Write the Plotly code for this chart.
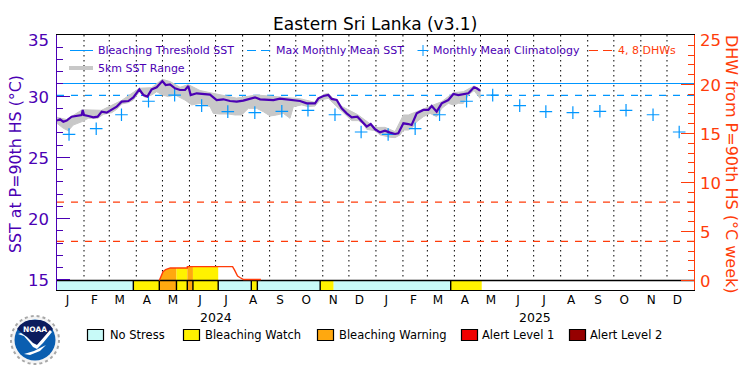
import pandas as pd
import plotly.graph_objects as go

TITLE = "Eastern Sri Lanka (v3.1)"
START = pd.Timestamp("2024-01-01")
END = pd.Timestamp("2026-01-01")

sst_days = [0,3.4,7.3,11.1,16.8,22.6,28.3,29.5,31,36,41.7,46.7,51.3,57,62.7,68.5,74.2,81.9,87.6,94.5,99.1,103.7,108.6,114.4,120.9,124.7,129.7,135.4,141.2,146.9,150.7,153.4,160.3,168,175.6,183.2,190.9,198.5,206.2,213.8,221.5,227.2,233,240.6,248.3,255.9,263.6,271.2,278.9,286.5,296.1,299.9,305.7,311.4,315.2,321,326.7,332.4,338.2,344.7,349.7,355.4,360,365,370.7,376.4,382.2,387.9,391.7,397.5,403.2,407,412.8,420.4,426.2,430,435.7,441.5,449.1,454.9,460.6,466.3,472.1,478.6,481.6,485.5]
sst_vals = [28.01,28.12,27.92,28.01,28.33,28.39,28.47,28.88,28.47,28.39,28.28,28.33,28.74,28.66,28.88,29.15,29.56,29.61,29.91,30.56,30.10,29.97,30.56,30.73,31.24,30.92,30.97,30.65,30.51,30.51,30.84,30.10,30.24,30.18,30.13,29.69,29.75,29.61,29.56,29.64,29.83,29.91,29.75,29.69,29.69,29.80,29.75,29.69,29.61,29.42,29.42,29.83,30.02,30.10,29.78,29.69,29.01,28.60,28.28,28.33,27.92,27.52,27.73,27.30,27.05,27.19,27.03,26.92,26.97,27.79,27.73,27.65,28.60,28.88,28.88,29.20,28.74,29.42,29.69,30.18,30.10,30.16,30.24,30.73,30.65,30.46]

low_days = [0,7.3,13,18.7,28.3,36,46.7,53.2,62.7,68.5,74.2,81.9,87.6,94.5,101,108.6,114.4,120.9,127.8,135.4,146.9,154.6,164.1,175.6,179.4,187.1,196.6,204.3,211.9,219.6,229.2,236.8,244.5,252.1,259.8,267.4,271.2,280.8,288.4,296.1,301.8,311.4,317.1,326.7,338.2,345.8,351.6,355.4,365,370.7,376.4,382.2,387.9,393.6,397.5,403.2,409,412.8,420.4,428.1,435.7,441.5,449.1,454.9,460.6,466.3,472.1,478.6,485.5]
low_vals = [27.79,27.38,27.19,27.65,27.92,28.20,28.20,28.52,28.66,28.93,29.37,29.48,29.69,30.37,29.91,30.10,30.37,30.10,29.97,30.10,29.69,29.29,29.42,29.15,28.60,28.55,28.55,28.47,28.47,29.01,29.01,28.74,28.39,28.47,28.60,28.20,29.15,29.29,29.15,29.20,29.69,29.83,29.42,28.74,28.01,28.01,27.73,27.30,27.19,26.84,26.75,26.65,26.62,26.84,27.24,27.24,27.52,27.92,28.33,28.60,28.33,29.01,29.42,29.29,29.42,29.42,30.10,30.46,29.83]

up_days = [0,11,29,51,74,94.5,108.6,120.9,129.7,141.2,150.7,164,175.6,206,229,256,279,296,306,311,326,345,365,376.4,387.9,397.5,403.2,412.8,428.1,441.5,454.9,466.3,478.6,485.5]
up_vals = [28.28,28.1,28.9,28.85,29.65,30.65,30.7,31.38,31.2,30.73,30.95,30.47,30.29,29.85,30.1,29.95,29.8,29.5,30.15,30.24,29.2,28.5,27.45,27.46,27.11,28.47,28.47,28.74,29.20,29.56,30.29,30.37,30.84,30.56]

clim_days = [13.8,45,74,105,135,166,196,227,258,288,319,349,380,411,439,470,500,531,561,592,623,653,684,714]
clim_vals = [26.88,27.35,28.49,29.59,30.09,29.23,28.74,28.66,28.77,28.85,28.49,27.08]*2

threshold_sst = 31.04
mmm_sst = 30.07
dhw_levels = [4, 8]

dhw_days = [117.4,119.4,121.7,124.7,130,137.1,149.5,149.6,156,175,185,201.5,203.8,207.2,210.3,214.1,234]
dhw_vals = [0,0.4,0.9,1.12,1.28,1.28,1.28,1.42,1.42,1.42,1.42,1.42,1.05,0.45,0.28,0.1,0.1]

stress_edges = [0,87.6,117.4,137.1,149.5,156,185,223,229.9,302,317.5,451.8,487.4]
stress_levels = ["none","watch","warning","watch","warning","watch","none","watch","none","watch","none","watch"]
stress_separators = [87.6,117.4,137.1,149.5,156,185,223,229.9,302,451.8]

month_labels = list("JFMAMJJASOND") * 2
years = ["2024", "2025"]
sst_ticks = [15, 20, 25, 30, 35]
dhw_ticks = [0, 5, 10, 15, 20, 25]

legend_top = ["Bleaching Threshold SST", "Max Monthly Mean SST", "Monthly Mean Climatology", "4, 8 DHWs", "5km SST Range"]
legend_bottom = ["No Stress", "Bleaching Watch", "Bleaching Warning", "Alert Level 1", "Alert Level 2"]

PURPLE = "#4B00B4"
BLUE = "#0096FF"
RED = "#FF3C0A"
GREY = "#C8C8C8"
COL = {"none": "#C8FAF8", "watch": "#FFF200", "warning": "#FFA80F", "alert1": "#F00000", "alert2": "#960000"}
FONT = "DejaVu Sans"


def d(day):
    return START + pd.Timedelta(days=float(day))


month_starts = list(pd.date_range(START, END, freq="MS"))
month_centers = [m + pd.Timedelta(days=12) for m in month_starts[:-1]]

fig = go.Figure()

# dotted month lines
gx, gy = [], []
for m in month_starts[1:-1]:
    gx += [m, m, None]
    gy += [35, 15.25, None]
fig.add_trace(go.Scatter(x=gx, y=gy, mode="lines", line=dict(color="black", width=1, dash="1.5px,3.5px")))

# reference lines
fig.add_trace(go.Scatter(x=[START, END], y=[threshold_sst] * 2, mode="lines", line=dict(color=BLUE, width=1.2)))
fig.add_trace(go.Scatter(x=[START, END], y=[mmm_sst] * 2, mode="lines", line=dict(color=BLUE, width=1.2, dash="7px,7px")))

# 5 km range
fig.add_trace(go.Scatter(
    x=[d(v) for v in up_days] + [d(v) for v in reversed(low_days)],
    y=up_vals + low_vals[::-1], mode="lines", fill="toself", fillcolor=GREY,
    line=dict(color=GREY, width=1)))

# climatology
fig.add_trace(go.Scatter(x=[d(v) for v in clim_days], y=clim_vals, mode="markers",
                         marker=dict(symbol="cross-thin", size=9, line=dict(color=BLUE, width=1.2))))

# SST
fig.add_trace(go.Scatter(x=[d(v) for v in sst_days], y=sst_vals, mode="lines",
                         line=dict(color=PURPLE, width=2.2)))

# DHW levels
for lv in dhw_levels:
    fig.add_trace(go.Scatter(x=[START, END], y=[lv, lv], yaxis="y2", mode="lines",
                             line=dict(color=RED, width=1.3, dash="7px,7px")))

# stress strip
for a, b, lv in zip(stress_edges[:-1], stress_edges[1:], stress_levels):
    fig.add_trace(go.Scatter(x=[d(a), d(b), d(b), d(a)], y=[-0.97, -0.97, 0, 0], yaxis="y2",
                             mode="lines", fill="toself", fillcolor=COL[lv], line=dict(width=0)))

# area under the DHW curve, coloured by stress level
for a, b, lv in zip(stress_edges[:-1], stress_edges[1:], stress_levels):
    px = [(t, v) for t, v in zip(dhw_days, dhw_vals) if a <= t <= b and t <= 185]
    if len(px) > 1 and lv != "none":
        xs = [d(p[0]) for p in px]
        ys = [p[1] for p in px]
        fig.add_trace(go.Scatter(x=[xs[0]] + xs + [xs[-1]], y=[0] + ys + [0], yaxis="y2", mode="lines",
                                 fill="toself", fillcolor=COL[lv], line=dict(width=0)))

# strip outline and separators
sx, sy = [], []
for t in stress_separators:
    sx += [d(t), d(t), None]
    sy += [-0.97, 0, None]
fig.add_trace(go.Scatter(x=sx, y=sy, yaxis="y2", mode="lines", line=dict(color="black", width=1.4)))
fig.add_trace(go.Scatter(x=[START, END], y=[0, 0], yaxis="y2", mode="lines", line=dict(color="black", width=1.4)))

# DHW curve
fig.add_trace(go.Scatter(x=[d(v) for v in dhw_days], y=dhw_vals, yaxis="y2", mode="lines",
                         line=dict(color=RED, width=1.4)))

W, H = 750, 375
L, R, T, B = 57, 694, 35, 290


def X(p):
    return (p - L) / (R - L)


def Y(p):
    return (B - p) / (B - T)


def pline(x0, y0, x1, y1, color, width=1, dash=None):
    return dict(type="line", xref="paper", yref="paper", x0=X(x0), y0=Y(y0), x1=X(x1), y1=Y(y1),
                line=dict(color=color, width=width, dash=dash), layer="above")


def pbox(x0, y0, x1, y1, fill, line="black", width=1.2):
    return dict(type="rect", xref="paper", yref="paper", x0=X(x0), y0=Y(y0), x1=X(x1), y1=Y(y1),
                fillcolor=fill, line=dict(color=line, width=width), layer="above")


def ppath(pts, fill):
    s = "M " + " L ".join(f"{X(a):.5f},{Y(b):.5f}" for a, b in pts) + " Z"
    return dict(type="path", xref="paper", yref="paper", path=s, fillcolor=fill, line=dict(width=0), layer="above")


def pcircle(cx, cy, r, fill, line=None, width=0, dash=None):
    return dict(type="circle", xref="paper", yref="paper", x0=X(cx - r), x1=X(cx + r), y0=Y(cy + r), y1=Y(cy - r),
                fillcolor=fill, line=dict(color=line or fill, width=width, dash=dash), layer="above")


def note(x, y, text, color="black", size=11, anchor="left", angle=0, bold=False):
    return dict(xref="paper", yref="paper", x=X(x), y=Y(y), text=f"<b>{text}</b>" if bold else text,
                showarrow=False, xanchor=anchor, yanchor="middle", textangle=angle,
                font=dict(family=FONT, size=size, color=color))


shapes = [
    pline(70, 50.5, 93, 50.5, BLUE),
    pline(247, 50.5, 256, 50.5, BLUE), pline(261, 50.5, 270, 50.5, BLUE),
    pline(423, 45, 423, 56, BLUE), pline(417.5, 50.5, 428.5, 50.5, BLUE),
    pline(589, 50.5, 598, 50.5, RED), pline(603, 50.5, 612, 50.5, RED),
    pline(69, 68, 93, 68, GREY, 4),
    pbox(87.5, 329.5, 103.5, 340.5, COL["none"]),
    pbox(183.5, 329.5, 199.5, 340.5, COL["watch"]),
    pbox(317.5, 329.5, 333.5, 340.5, COL["warning"]),
    pbox(461.5, 329.5, 477.5, 340.5, COL["alert1"]),
    pbox(569.5, 329.5, 585.5, 340.5, COL["alert2"]),
    # NOAA logo
    pcircle(35, 340, 24, "#F4F4F4", "#A8A8A8", 2, "dot"),
    pcircle(35, 340, 20.5, "#0A5EB0"),
    ppath([(17, 329), (20, 325), (25, 321.5), (30, 320), (40, 320), (45, 321.5), (50, 325), (53, 329),
           (48, 334), (42, 340), (37, 345), (33, 343), (27, 337), (22, 333)], "#0C1C5E"),
    ppath([(18, 334), (24, 336), (30, 343), (33, 347), (37, 349), (43, 343), (52, 332), (50, 330),
           (44, 337), (37, 345), (33, 343), (27, 337), (21, 333)], "#FFFFFF"),
    ppath([(24, 354), (34, 351), (46, 345), (40, 351), (30, 355)], "#FFFFFF"),
]

annotations = [
    note(375, 24, TITLE, size=17, anchor="center"),
    note(96, 50.5, legend_top[0], PURPLE), note(274, 50.5, legend_top[1], PURPLE),
    note(431, 50.5, legend_top[2], PURPLE), note(616, 50.5, legend_top[3], RED),
    note(96, 68.5, legend_top[4], PURPLE),
    note(108, 335, legend_bottom[0], size=11.5), note(203, 335, legend_bottom[1], size=11.5),
    note(337, 335, legend_bottom[2], size=11.5), note(480, 335, legend_bottom[3], size=11.5),
    note(588, 335, legend_bottom[4], size=11.5),
    note(15, 164, "SST at P=90th HS (°C)", PURPLE, 15.8, "center", -90),
    note(732, 164, "DHW from P=90th HS (°C week)", RED, 16, "center", 90),
    note(35, 329.5, "NOAA", "white", 7.5, "center", bold=True),
]
for i, y in enumerate(years):
    annotations.append(dict(xref="x", yref="paper", x=pd.Timestamp(f"{y}-07-02"), y=Y(316), text=y, showarrow=False,
                            yanchor="middle", yshift=-1, font=dict(family=FONT, size=12.5, color="black")))
for t in sst_ticks:
    annotations.append(dict(xref="paper", yref="y", x=X(51), y=t, text=str(t), showarrow=False, xanchor="right",
                            yanchor="middle", yshift=-5 if t == 35 else -1,
                            font=dict(family=FONT, size=16.5, color=PURPLE)))
for t in dhw_ticks:
    annotations.append(dict(xref="paper", yref="y2", x=X(698), y=t, text=str(t), showarrow=False, xanchor="left",
                            yanchor="middle", yshift=-5 if t == 25 else -1,
                            font=dict(family=FONT, size=16.5, color=RED)))

fig.update_layout(
    width=W, height=H, autosize=False, showlegend=False, paper_bgcolor="white", plot_bgcolor="white",
    margin=dict(l=L, r=W - R, t=T, b=H - B),
    xaxis=dict(type="date", range=[START, END], showgrid=False, zeroline=False, showline=True, linecolor="black",
               linewidth=1.4, mirror=True, ticks="", tickmode="array", tickvals=month_centers,
               ticktext=month_labels, tickangle=0, ticklabelstandoff=-2,
               tickfont=dict(family=FONT, size=12, color="black")),
    yaxis=dict(range=[14.18, 35], showgrid=False, zeroline=False, showline=True, linecolor=PURPLE, linewidth=1.4,
               ticks="inside", ticklen=13, tickwidth=1.4, tickcolor=PURPLE, tickmode="array", tickvals=sst_ticks,
               showticklabels=False,
               minor=dict(ticks="inside", ticklen=6, tickwidth=1.2, tickcolor=PURPLE, dtick=1, tick0=15)),
    yaxis2=dict(range=[-0.97, 25.05], overlaying="y", side="right", showgrid=False, zeroline=False, showline=True,
                linecolor=RED, linewidth=1.4, ticks="inside", ticklen=13, tickwidth=1.4, tickcolor=RED,
                tickmode="array", tickvals=dhw_ticks, showticklabels=False,
                minor=dict(ticks="inside", ticklen=6, tickwidth=1.2, tickcolor=RED, dtick=1, tick0=0)),
    shapes=shapes, annotations=annotations,
)
fig.write_html("out.html", config=dict(displayModeBar=False),
               post_script="document.body.style.margin='0';document.body.style.overflow='hidden';")
